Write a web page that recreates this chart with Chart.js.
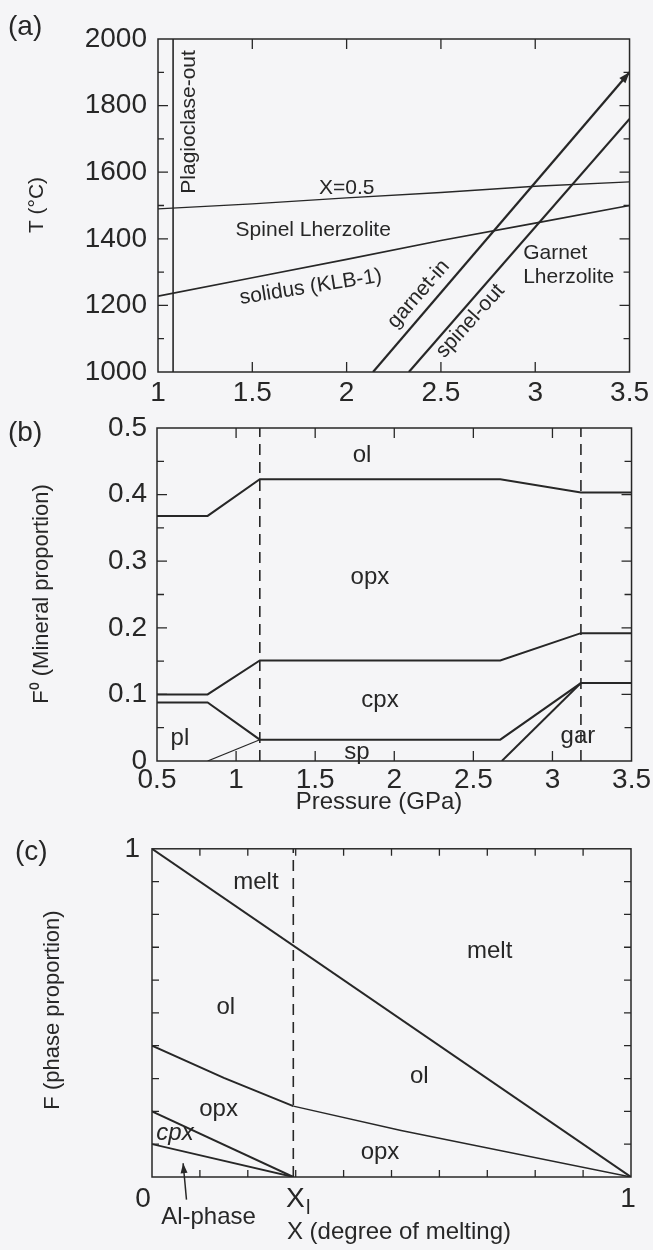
<!DOCTYPE html>
<html>
<head>
<meta charset="utf-8">
<script src="https://cdn.jsdelivr.net/npm/chart.js@4.4.1/dist/chart.umd.min.js"></script>
<style>
  html, body { margin: 0; padding: 0; background: #f5f5f7; }
  #fig { position: relative; width: 653px; height: 1250px; overflow: hidden; }
  .panel { position: absolute; left: 0; width: 653px; }
</style>
</head>
<body>
<div id="fig">
  <div class="panel" style="top:0;height:415px"><canvas id="chartA"></canvas></div>
  <div class="panel" style="top:400px;height:420px"><canvas id="chartB"></canvas></div>
  <div class="panel" style="top:820px;height:430px"><canvas id="chartC"></canvas></div>
</div>
<script>
// (a) phase boundaries, pressure (GPa) vs temperature (°C)
const plagOutP = [1.08, 1.08];
const plagOutT = [1000, 2000];
const meltHalfP = [1, 1.5, 2, 2.5, 3, 3.5];
const meltHalfT = [1490, 1505, 1523, 1539, 1558, 1571];
const solidusP = [1, 1.5, 2, 2.5, 3, 3.5];
const solidusT = [1228, 1283, 1338, 1395, 1447, 1500];
const garnetInP = [2.14, 3.5];
const garnetInT = [1000, 1900];
const spinelOutP = [2.33, 3.5];
const spinelOutT = [1000, 1760];

// (b) cumulative mineral proportions vs pressure
const modeP = [0.5, 0.82, 1.15, 2.67, 3.18, 3.5];
const olBase = [0.368, 0.368, 0.423, 0.423, 0.403, 0.403];
const opxBase = [0.1, 0.1, 0.151, 0.151, 0.192, 0.192];
const cpxBase = [0.088, 0.088, 0.032, 0.032, 0.117, 0.117];
const spinelP = [0.82, 1.15];
const spinelTop = [0, 0.032];
const garnetP = [2.68, 3.18];
const garnetTop = [0, 0.117];
const plagEdge = 1.15;
const garnetEdge = 3.18;

// (c) phase proportions vs degree of melting
const XL = 0.295;
const meltX = [0, 1];
const meltF = [1, 0];
const olX = [0, 0.15, XL, 0.52, 1];
const olF = [0.4, 0.302, 0.216, 0.142, 0];
const opxX = [0, XL];
const opxF = [0.2, 0];
const cpxX = [0, XL];
const cpxF = [0.1, 0];
const cTickVals = [0, XL, 1];
const cTickText = ['0', 'X', '1'];

const ink = '#272727';
const family = "'Liberation Sans', Arial, Helvetica, sans-serif";

Chart.defaults.font.family = family;
Chart.defaults.color = ink;
Chart.defaults.animation = false;
Chart.defaults.responsive = true;
Chart.defaults.maintainAspectRatio = false;
Chart.defaults.events = [];
Chart.defaults.plugins.legend.display = false;
Chart.defaults.plugins.tooltip.enabled = false;

const pts = (xs, ys) => xs.map((x, i) => ({ x, y: ys[i] }));

const line = (xs, ys, width = 2, extra = {}) => ({
  data: pts(xs, ys),
  showLine: true,
  borderColor: ink,
  borderWidth: width,
  pointRadius: 0,
  fill: false,
  ...extra,
});

const dashed = (xs, ys) => line(xs, ys, 1.6, { borderDash: [11, 7] });

function axis(min, max, step, size, isY, pad, fmt) {
  return {
    type: 'linear',
    min,
    max,
    grid: { display: false, drawTicks: false },
    border: { display: false },
    ticks: {
      stepSize: step,
      autoSkip: false,
      maxRotation: 0,
      padding: pad,
      display: !!fmt,
      font: { size: 28 },
      callback: fmt || (() => ''),
    },
    afterFit: (s) => {
      if (isY) s.width = size;
      else s.height = size;
    },
  };
}

const onStep = (v, step) => Math.abs(v / step - Math.round(v / step)) < 1e-6;

// box round the plot area plus inward tick marks on all four sides
function framePlugin(xMajor, yMajor, major, minor) {
  return {
    id: 'frame',
    afterDatasetsDraw(chart) {
      const { ctx, chartArea: a, scales: { x, y } } = chart;
      ctx.save();
      ctx.strokeStyle = ink;
      ctx.lineWidth = 1.5;
      ctx.strokeRect(a.left, a.top, a.width, a.height);
      ctx.lineWidth = 1.3;
      ctx.beginPath();
      x.ticks.forEach((t) => {
        const px = x.getPixelForValue(t.value);
        if (px <= a.left + 1 || px >= a.right - 1) return;
        const len = onStep(t.value, xMajor) ? major : minor;
        ctx.moveTo(px, a.bottom);
        ctx.lineTo(px, a.bottom - len);
        ctx.moveTo(px, a.top);
        ctx.lineTo(px, a.top + len);
      });
      y.ticks.forEach((t) => {
        const py = y.getPixelForValue(t.value);
        if (py <= a.top + 1 || py >= a.bottom - 1) return;
        const len = onStep(t.value, yMajor) ? major : minor;
        ctx.moveTo(a.left, py);
        ctx.lineTo(a.left + len, py);
        ctx.moveTo(a.right, py);
        ctx.lineTo(a.right - len, py);
      });
      ctx.stroke();
      ctx.restore();
    },
  };
}

// free text: data coordinates by default, canvas pixels when px is set
function textPlugin(items) {
  return {
    id: 'texts',
    afterDraw(chart) {
      const { ctx, scales: { x, y } } = chart;
      ctx.save();
      ctx.fillStyle = ink;
      ctx.textBaseline = 'middle';
      items.forEach((t) => {
        const px = t.px ? t.x : x.getPixelForValue(t.x) + (t.dx || 0);
        const py = t.px ? t.y : y.getPixelForValue(t.y) + (t.dy || 0);
        ctx.save();
        ctx.translate(px, py);
        if (t.rot) ctx.rotate((t.rot * Math.PI) / 180);
        ctx.font = (t.style ? t.style + ' ' : '') + (t.size || 24) + 'px ' + family;
        ctx.textAlign = t.align || 'center';
        ctx.fillText(t.text, 0, 0);
        ctx.restore();
      });
      ctx.restore();
    },
  };
}

function arrowPlugin(arrows) {
  return {
    id: 'arrows',
    afterDraw(chart) {
      const { ctx, scales: { x, y } } = chart;
      ctx.save();
      ctx.strokeStyle = ink;
      ctx.fillStyle = ink;
      ctx.lineWidth = 1.5;
      arrows.forEach((a) => {
        const x0 = x.getPixelForValue(a.from[0]);
        const y0 = y.getPixelForValue(a.from[1]);
        const x1 = x.getPixelForValue(a.to[0]);
        const y1 = y.getPixelForValue(a.to[1]);
        const ang = Math.atan2(y1 - y0, x1 - x0);
        if (a.shaft) {
          ctx.beginPath();
          ctx.moveTo(x0, y0);
          ctx.lineTo(x1, y1);
          ctx.stroke();
        }
        const c = Math.cos(ang), s = Math.sin(ang);
        ctx.beginPath();
        ctx.moveTo(x1, y1);
        ctx.lineTo(x1 - a.len * c + a.half * s, y1 - a.len * s - a.half * c);
        ctx.lineTo(x1 - a.len * c - a.half * s, y1 - a.len * s + a.half * c);
        ctx.closePath();
        ctx.fill();
      });
      ctx.restore();
    },
  };
}

const fmtNum = (v) => String(+v.toFixed(2));

// (a) P–T diagram
new Chart(document.getElementById('chartA'), {
  type: 'scatter',
  data: {
    datasets: [
      line(plagOutP, plagOutT, 1.6),
      line(meltHalfP, meltHalfT, 1.4),
      line(solidusP, solidusT, 1.7),
      line(garnetInP, garnetInT, 2.2),
      line(spinelOutP, spinelOutT, 2.2),
    ],
  },
  options: {
    layout: { padding: { top: 39, right: 21, left: 0, bottom: 0 } },
    scales: {
      x: axis(1, 3.5, 0.5, 43, false, 4, fmtNum),
      y: axis(1000, 2000, 100, 158, true, 11, (v) => (v % 200 === 0 ? String(v) : '')),
    },
  },
  plugins: [
    framePlugin(0.5, 200, 10, 6),
    arrowPlugin([{ from: [garnetInP[0], garnetInT[0]], to: [garnetInP[1], garnetInT[1]], len: 11, half: 4 }]),
    textPlugin([
      { text: 'Plagioclase-out', x: 1.163, y: 1751, rot: -90, size: 21 },
      { text: 'X=0.5', x: 1.854, y: 1553, align: 'left', size: 21 },
      { text: 'Spinel Lherzolite', x: 1.823, y: 1426, size: 21 },
      { text: 'solidus (KLB-1)', x: 1.81, y: 1255, rot: -9, size: 21 },
      { text: 'garnet-in', x: 2.382, y: 1234, rot: -49, size: 21 },
      { text: 'spinel-out', x: 2.656, y: 1153, rot: -48, size: 21 },
      { text: 'Garnet', x: 2.936, y: 1357, align: 'left', size: 21 },
      { text: 'Lherzolite', x: 2.936, y: 1285, align: 'left', size: 21 },
      { px: true, text: '(a)', x: 8, y: 27, align: 'left', size: 28 },
      { px: true, text: 'T (°C)', x: 37, y: 205, rot: -90, size: 21 },
    ]),
  ],
});

// (b) modal mineralogy along the solidus
new Chart(document.getElementById('chartB'), {
  type: 'scatter',
  data: {
    datasets: [
      line(modeP, olBase, 2),
      line(modeP, opxBase, 2),
      line(modeP, cpxBase, 2),
      line(spinelP, spinelTop, 1.2),
      line(garnetP, garnetTop, 2),
      dashed([plagEdge, plagEdge], [0, 0.5]),
      dashed([garnetEdge, garnetEdge], [0, 0.5]),
    ],
  },
  options: {
    layout: { padding: { top: 28, right: 21, left: 0, bottom: 0 } },
    scales: {
      x: axis(0.5, 3.5, 0.5, 59, false, 2, fmtNum),
      y: axis(0, 0.5, 0.05, 157, true, 10, (v) => (onStep(v, 0.1) ? String(+v.toFixed(1)) : '')),
    },
  },
  plugins: [
    framePlugin(0.5, 0.1, 10, 7),
    textPlugin([
      { text: 'ol', x: 1.796, y: 0.459 },
      { text: 'opx', x: 1.846, y: 0.276 },
      { text: 'cpx', x: 1.91, y: 0.091 },
      { text: 'sp', x: 1.764, y: 0.013 },
      { text: 'pl', x: 0.645, y: 0.034 },
      { text: 'gar', x: 3.161, y: 0.037 },
      { px: true, text: '(b)', x: 8, y: 33, align: 'left', size: 28 },
      { px: true, text: 'F⁰ (Mineral proportion)', x: 42, y: 194, rot: -90, size: 22 },
      { px: true, text: 'Pressure (GPa)', x: 379, y: 402, size: 24 },
    ]),
  ],
});

// (c) phase proportions during melting
const cTicks = cTickVals.map((v, i) => ({
  x: v, y: 0, dx: [-9, 2, -3][i], dy: 22, text: cTickText[i], size: 28,
}));

new Chart(document.getElementById('chartC'), {
  type: 'scatter',
  data: {
    datasets: [
      line(meltX, meltF, 2),
      line(olX, olF, 2, { segment: { borderWidth: (c) => (c.p0.parsed.x >= XL - 1e-9 ? 1.5 : 2) } }),
      line(opxX, opxF, 2),
      line(cpxX, cpxF, 1.8),
      dashed([XL, XL], [0, 1]),
    ],
  },
  options: {
    layout: { padding: { top: 24, right: 22, left: 0, bottom: 0 } },
    scales: {
      x: axis(0, 1, 0.1, 73, false, 4, null),
      y: axis(0, 1, 0.1, 152, true, 12, (v) => (Math.abs(v - 1) < 1e-6 ? '1' : '')),
    },
  },
  plugins: [
    framePlugin(0.1, 0.1, 7, 7),
    arrowPlugin([{ from: [0.072, -0.069], to: [0.065, 0.042], shaft: true, len: 10, half: 3.5 }]),
    textPlugin([
      { text: 'melt', x: 0.217, y: 0.898 },
      { text: 'melt', x: 0.705, y: 0.688 },
      { text: 'ol', x: 0.154, y: 0.517 },
      { text: 'ol', x: 0.558, y: 0.306 },
      { text: 'opx', x: 0.139, y: 0.207 },
      { text: 'cpx', x: 0.048, y: 0.132, style: 'italic' },
      { text: 'opx', x: 0.476, y: 0.075 },
      { text: 'Al-phase', x: 0.118, y: -0.123 },
      ...cTicks,
      { text: 'l', x: XL, y: 0, dx: 15, dy: 31, size: 20 },
      { px: true, text: '(c)', x: 15, y: 32, align: 'left', size: 28 },
      { px: true, text: 'F (phase proportion)', x: 53, y: 190, rot: -90, size: 22 },
      { px: true, text: 'X (degree of melting)', x: 399, y: 412, size: 24 },
    ]),
  ],
});
</script>
</body>
</html>
